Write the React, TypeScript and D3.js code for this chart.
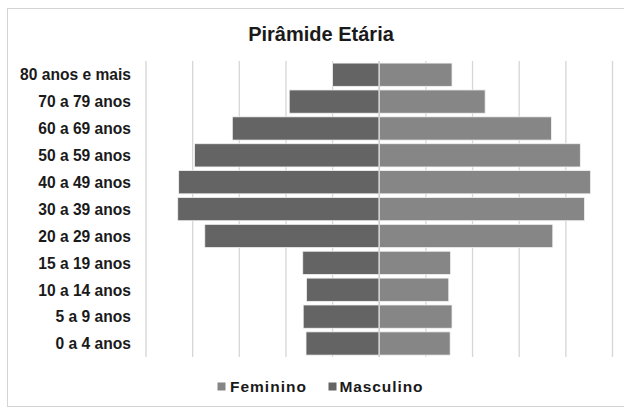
import React from "react";
import * as d3 from "d3";

const categories = [
  "80 anos e mais",
  "70 a 79 anos",
  "60 a 69 anos",
  "50 a 59 anos",
  "40 a 49 anos",
  "30 a 39 anos",
  "20 a 29 anos",
  "15 a 19 anos",
  "10 a 14 anos",
  "5 a 9 anos",
  "0 a 4 anos",
];
const masculino = [1.0, 1.93, 3.15, 3.96, 4.3, 4.32, 3.74, 1.64, 1.56, 1.63, 1.57];
const feminino = [1.56, 2.27, 3.69, 4.31, 4.53, 4.4, 3.72, 1.53, 1.49, 1.56, 1.52];
const gridTicks = [-5, -4, -3, -2, -1, 0, 1, 2, 3, 4, 5];
const title = "Pirâmide Etária";
const legendItems = [
  { name: "Feminino", color: "#868686" },
  { name: "Masculino", color: "#646464" },
];

const W = 624;
const H = 409;
const FONT = "'Liberation Sans', Arial, sans-serif";

export default function App() {
  const x = d3.scaleLinear().domain([-5, 5]).range([146, 612.5]);
  const y = d3.scaleBand<string>().domain(categories).range([61.2, 357]).paddingInner(0.135).paddingOuter(0.07);
  const x0 = x(0);
  return (
    <svg
      width={W}
      height={H}
      style={{ position: "absolute", left: 0, top: 0, background: "#fff" }}
      fontFamily={FONT}
    >
      <rect x={7.5} y={8.5} width={640} height={398} fill="#fff" stroke="#d4d4d4" strokeWidth={1} />
      <text x={321} y={41} textAnchor="middle" fontSize={20} fontWeight="bold" fill="#1a1a1a">
        {title}
      </text>
      {gridTicks.map((t) => (
        <line key={t} x1={x(t)} x2={x(t)} y1={61} y2={357} stroke="#d6d6d6" strokeWidth={1.3} />
      ))}
      {categories.map((c, i) => (
        <g key={c}>
          <rect
            x={x(-masculino[i])}
            y={y(c)}
            width={x0 - x(-masculino[i])}
            height={y.bandwidth()}
            fill="#646464"
            stroke="#f2f2f2"
            strokeWidth={0.8}
          />
          <rect
            x={x0}
            y={y(c)}
            width={x(feminino[i]) - x0}
            height={y.bandwidth()}
            fill="#868686"
            stroke="#f2f2f2"
            strokeWidth={0.8}
          />
          <text
            x={131}
            y={(y(c) as number) + y.bandwidth() / 2}
            dy="0.37em"
            textAnchor="end"
            fontSize={15.6}
            fontWeight="bold"
            fill="#1a1a1a"
          >
            {c}
          </text>
        </g>
      ))}
      <line x1={x0} x2={x0} y1={61} y2={357} stroke="#d0d0d0" strokeWidth={1.5} />
      <g>
        <rect x={217.5} y={382.5} width={8} height={8} fill={legendItems[0].color} />
        <text x={230} y={392} fontSize={15.5} fontWeight="bold" letterSpacing={1.0} fill="#1a1a1a">
          {legendItems[0].name}
        </text>
        <rect x={328.5} y={382.5} width={8} height={8} fill={legendItems[1].color} />
        <text x={339.5} y={392} fontSize={15.5} fontWeight="bold" letterSpacing={0.9} fill="#1a1a1a">
          {legendItems[1].name}
        </text>
      </g>
    </svg>
  );
}
